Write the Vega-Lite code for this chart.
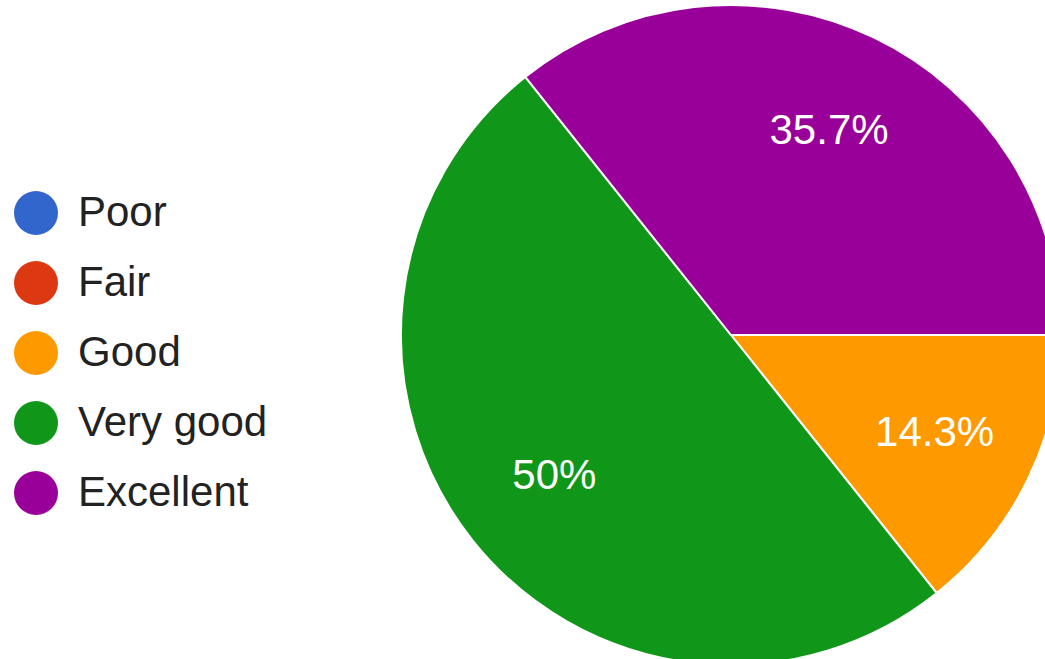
{
  "$schema": "https://vega.github.io/schema/vega-lite/v6.json",
  "width": 1462,
  "height": 670,
  "autosize": {"type": "none"},
  "padding": 0,
  "background": "white",
  "data": {
    "values": [
      {"rating": "Poor", "count": 0, "rank": 1, "label": "0%"},
      {"rating": "Fair", "count": 0, "rank": 2, "label": "0%"},
      {"rating": "Good", "count": 2, "rank": 3, "label": "14.3%"},
      {"rating": "Very good", "count": 7, "rank": 4, "label": "50%"},
      {"rating": "Excellent", "count": 5, "rank": 5, "label": "35.7%"}
    ]
  },
  "encoding": {
    "theta": {"field": "count", "type": "quantitative", "stack": true, "scale": {"range": [1.5708, 7.854]}},
    "order": {"field": "rank", "type": "quantitative"}
  },
  "layer": [
    {
      "mark": {"type": "arc", "outerRadius": 330, "stroke": "white", "strokeWidth": 2},
      "encoding": {
        "color": {
          "field": "rating",
          "type": "nominal",
          "sort": ["Poor", "Fair", "Good", "Very good", "Excellent"],
          "scale": {
            "domain": ["Poor", "Fair", "Good", "Very good", "Excellent"],
            "range": ["#3366cc", "#dc3912", "#ff9900", "#109618", "#990099"]
          },
          "legend": {
            "title": null,
            "orient": "none",
            "legendX": 14,
            "legendY": 191,
            "symbolType": "circle",
            "symbolSize": 1936,
            "symbolStrokeWidth": 0,
            "labelFont": "Liberation Sans",
            "labelFontSize": 42,
            "labelColor": "#222222",
            "labelOffset": 20,
            "rowPadding": 26,
            "labelLimit": 400
          }
        }
      }
    },
    {
      "transform": [{"filter": "datum.count > 0"}],
      "mark": {"type": "text", "radius": 226, "fill": "white", "font": "Liberation Sans", "fontSize": 42, "baseline": "middle", "align": "center"},
      "encoding": {
        "text": {"field": "label", "type": "nominal"}
      }
    }
  ],
  "config": {"view": {"stroke": null}}
}
